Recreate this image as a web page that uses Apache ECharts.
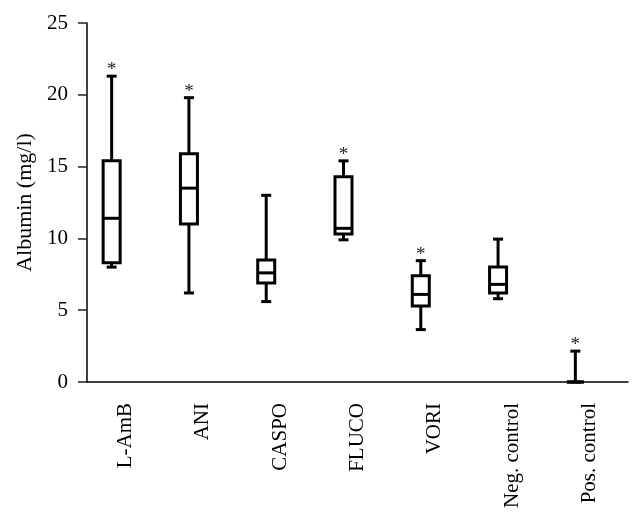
<!DOCTYPE html>
<html><head><meta charset="utf-8">
<script src="https://cdn.jsdelivr.net/npm/echarts@6/dist/echarts.min.js"></script>
<style>html,body{margin:0;padding:0;background:#fff}#c{width:642px;height:525px}</style>
</head><body><div id="c"></div>
<script>
const categories = ['L-AmB', 'ANI', 'CASPO', 'FLUCO', 'VORI', 'Neg. control', 'Pos. control'];
const whiskerLow  = [8.0, 6.2, 5.6, 9.9, 3.65, 5.8, 0];
const q1          = [8.3, 11.0, 6.9, 10.3, 5.3, 6.2, 0];
const median      = [11.4, 13.5, 7.6, 10.7, 6.1, 6.8, 0];
const q3          = [15.4, 15.9, 8.5, 14.3, 7.4, 8.0, 0];
const whiskerHigh = [21.3, 19.8, 13.0, 15.4, 8.45, 9.95, 2.15];
const significant = [1, 1, 0, 1, 1, 0, 1];
const yTicks = [0, 5, 10, 15, 20, 25];

const FONT = '"Liberation Serif", "Times New Roman", serif';
const data = categories.map((c, i) => [i, whiskerLow[i], q1[i], median[i], q3[i], whiskerHigh[i], significant[i]]);

const chart = echarts.init(document.getElementById('c'), null, {renderer: 'canvas'});
chart.setOption({
  animation: false,
  backgroundColor: '#fff',
  grid: {left: 87, right: 14, top: 23, bottom: 143, containLabel: false},
  xAxis: {
    type: 'category',
    data: categories,
    boundaryGap: true,
    axisLine: {lineStyle: {color: '#000', width: 1.5}},
    axisTick: {alignWithLabel: true, length: 9, lineStyle: {color: '#222', width: 1.5}},
    axisLabel: {rotate: 90, margin: 21, color: '#000', fontFamily: FONT, fontSize: 21, interval: 0},
    splitLine: {show: false}
  },
  yAxis: {
    type: 'value',
    min: yTicks[0], max: yTicks[yTicks.length - 1], interval: 5,
    name: 'Albumin (mg/l)',
    nameLocation: 'middle', nameGap: 50, nameRotate: 90,
    nameTextStyle: {color: '#000', fontFamily: FONT, fontSize: 22},
    axisLine: {show: true, lineStyle: {color: '#000', width: 1.5}},
    axisTick: {show: true, length: 9, lineStyle: {color: '#222', width: 1.5}},
    axisLabel: {margin: 19, color: '#000', fontFamily: FONT, fontSize: 21},
    splitLine: {show: false}
  },
  series: [{
    type: 'custom',
    data: data,
    encode: {x: 0, y: [1, 2, 3, 4, 5]},
    renderItem: function (params, api) {
      const i = api.value(0);
      const shift = -14;
      const x = api.coord([i, 0])[0] + shift;
      const yLo = api.coord([i, api.value(1)])[1];
      const yQ1 = api.coord([i, api.value(2)])[1];
      const yMed = api.coord([i, api.value(3)])[1];
      const yQ3 = api.coord([i, api.value(4)])[1];
      const yHi = api.coord([i, api.value(5)])[1];
      const hb = 8.5, hc = 5;
      const st = {stroke: '#000', lineWidth: 3, fill: null};
      const children = [
        {type: 'line', shape: {x1: x, y1: yQ3, x2: x, y2: yHi}, style: st},
        {type: 'line', shape: {x1: x, y1: yQ1, x2: x, y2: yLo}, style: st},
        {type: 'line', shape: {x1: x - hc, y1: yHi, x2: x + hc, y2: yHi}, style: st},
        {type: 'line', shape: {x1: x - hc, y1: yLo, x2: x + hc, y2: yLo}, style: st},
        {type: 'rect', shape: {x: x - hb, y: yQ3, width: 2 * hb, height: yQ1 - yQ3}, style: {stroke: '#000', lineWidth: 3, fill: '#fff'}},
        {type: 'line', shape: {x1: x - hb, y1: yMed, x2: x + hb, y2: yMed}, style: st}
      ];
      if (api.value(6)) {
        children.push({type: 'text', style: {text: '*', x: x, y: yHi - 6, align: 'center', verticalAlign: 'middle', font: '19px ' + FONT, fill: '#222'}});
      }
      return {type: 'group', children: children};
    }
  }]
});
</script></body></html>
